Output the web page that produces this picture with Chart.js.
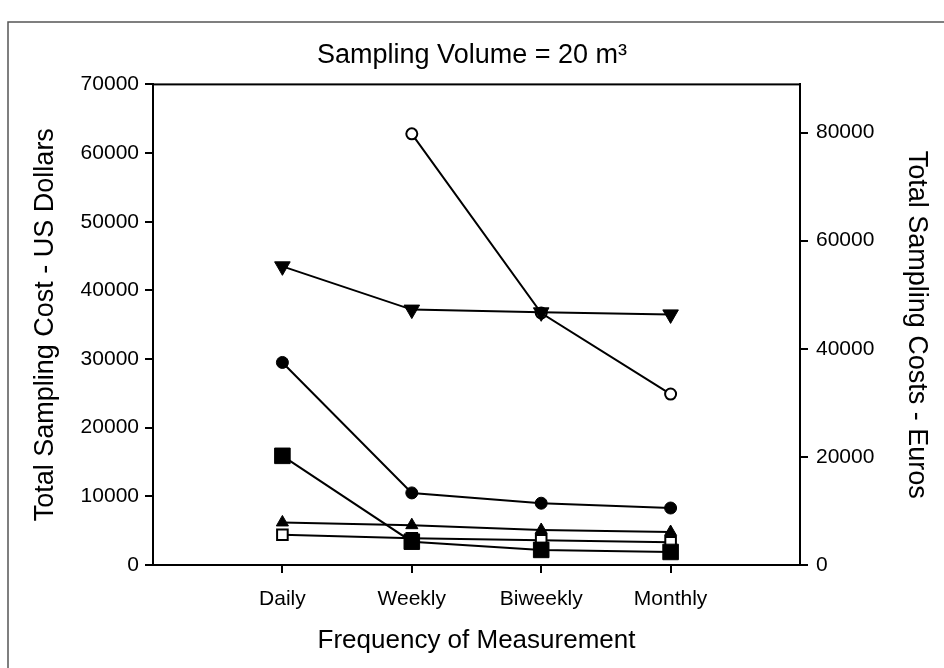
<!DOCTYPE html>
<html>
<head>
<meta charset="utf-8">
<script src="https://cdn.jsdelivr.net/npm/chart.js@4.4.1/dist/chart.umd.min.js"></script>
<style>
  body { margin: 0; background: #fff; }
  #wrap { width: 944px; height: 668px; }
</style>
</head>
<body>
<div id="wrap"><canvas id="grafico" width="944" height="668"></canvas></div>
<script>
// Datos
const categorias = ['Daily', 'Weekly', 'Biweekly', 'Monthly'];
const circuloAbierto = [null, 62800, 36700, 24900];
const trianguloAbajo = [43500, 37200, 36800, 36500];
const circuloLleno = [29500, 10500, 9000, 8300];
const cuadradoLleno = [15900, 3400, 2200, 1900];
const trianguloArriba = [6200, 5800, 5100, 4800];
const cuadradoAbierto = [4400, 3900, 3600, 3300];
const ticksDolares = [0, 10000, 20000, 30000, 40000, 50000, 60000, 70000];
const ticksEuros = [0, 20000, 40000, 60000, 80000];

const fuente = '"Liberation Sans", Arial, sans-serif';
const negro = '#000';

function puntos(valores) {
    return valores.map((v, i) => ({ x: i + 1, y: v }));
}

function serie(valores, estilo, radio, relleno, rotacion) {
    return {
        data: puntos(valores),
        borderColor: negro,
        borderWidth: 2,
        tension: 0,
        pointStyle: estilo,
        pointRadius: radio,
        pointRotation: rotacion || 0,
        pointBackgroundColor: relleno,
        pointBorderColor: negro,
        pointBorderWidth: relleno === '#fff' ? 2 : 1
    };
}

// Marco exterior y borde superior del area
const marco = {
    id: 'marco',
    beforeDraw(chart) {
        const ctx = chart.ctx;
        ctx.save();
        ctx.strokeStyle = '#555';
        ctx.lineWidth = 1.5;
        ctx.strokeRect(8, 22, 1000, 1000);
        ctx.restore();
    },
    afterDatasetsDraw(chart) {
        const { ctx, chartArea } = chart;
        ctx.save();
        ctx.strokeStyle = negro;
        ctx.lineWidth = 2;
        ctx.strokeRect(chartArea.left, chartArea.top,
            chartArea.right - chartArea.left, chartArea.bottom - chartArea.top);
        ctx.restore();
    }
};

const ctx = document.getElementById('grafico').getContext('2d');
new Chart(ctx, {
    type: 'line',
    data: {
        // el primer conjunto se dibuja encima
        datasets: [
            serie(trianguloAbajo, 'triangle', 9, negro, 180),
            serie(circuloAbierto, 'circle', 5.5, '#fff'),
            serie(cuadradoLleno, 'rect', 11, negro),
            serie(cuadradoAbierto, 'rect', 7.5, '#fff'),
            serie(trianguloArriba, 'triangle', 7, negro),
            serie(circuloLleno, 'circle', 6, negro)
        ]
    },
    options: {
        responsive: false,
        animation: false,
        layout: { padding: 0 },
        plugins: {
            legend: { display: false },
            tooltip: { enabled: false },
            title: {
                display: true,
                text: 'Sampling Volume = 20 m\u00B3',
                color: negro,
                font: { family: fuente, size: 27, weight: 'normal' },
                padding: { top: 39, bottom: 13 }
            }
        },
        scales: {
            x: {
                type: 'linear',
                position: 'bottom',
                min: 0,
                max: 5,
                afterBuildTicks: s => { s.ticks = categorias.map((c, i) => ({ value: i + 1 })); },
                afterFit: s => { s.height = 103; },
                ticks: {
                    color: negro,
                    padding: 14,
                    font: { family: fuente, size: 21 },
                    callback: v => categorias[v - 1] || ''
                },
                grid: { drawOnChartArea: false, tickLength: 8, color: negro, lineWidth: 2 },
                border: { display: true, color: negro, width: 2 },
                title: {
                    display: true,
                    text: 'Frequency of Measurement',
                    color: negro,
                    font: { family: fuente, size: 26 },
                    padding: { top: 0, bottom: 12 }
                }
            },
            y: {
                position: 'left',
                min: 0,
                max: 70000,
                afterBuildTicks: s => { s.ticks = ticksDolares.map(v => ({ value: v })); },
                afterFit: s => { s.width = 153; },
                ticks: {
                    color: negro,
                    padding: 6,
                    font: { family: fuente, size: 21 },
                    callback: v => String(v)
                },
                grid: { drawOnChartArea: false, tickLength: 8, color: negro, lineWidth: 2 },
                border: { display: true, color: negro, width: 2 },
                title: {
                    display: true,
                    text: 'Total Sampling Cost - US Dollars',
                    color: negro,
                    font: { family: fuente, size: 27 },
                    padding: { top: 29, bottom: 0 }
                }
            },
            y2: {
                position: 'right',
                min: 0,
                max: 88900,
                afterBuildTicks: s => { s.ticks = ticksEuros.map(v => ({ value: v })); },
                afterFit: s => { s.width = 144; },
                ticks: {
                    color: negro,
                    padding: 8,
                    font: { family: fuente, size: 21 },
                    callback: v => String(v)
                },
                grid: { drawOnChartArea: false, tickLength: 8, color: negro, lineWidth: 2 },
                border: { display: true, color: negro, width: 2 },
                title: {
                    display: true,
                    text: 'Total Sampling Costs - Euros',
                    color: negro,
                    font: { family: fuente, size: 27 },
                    padding: { top: 11, bottom: 0 }
                }
            }
        }
    },
    plugins: [marco]
});
</script>
</body>
</html>
